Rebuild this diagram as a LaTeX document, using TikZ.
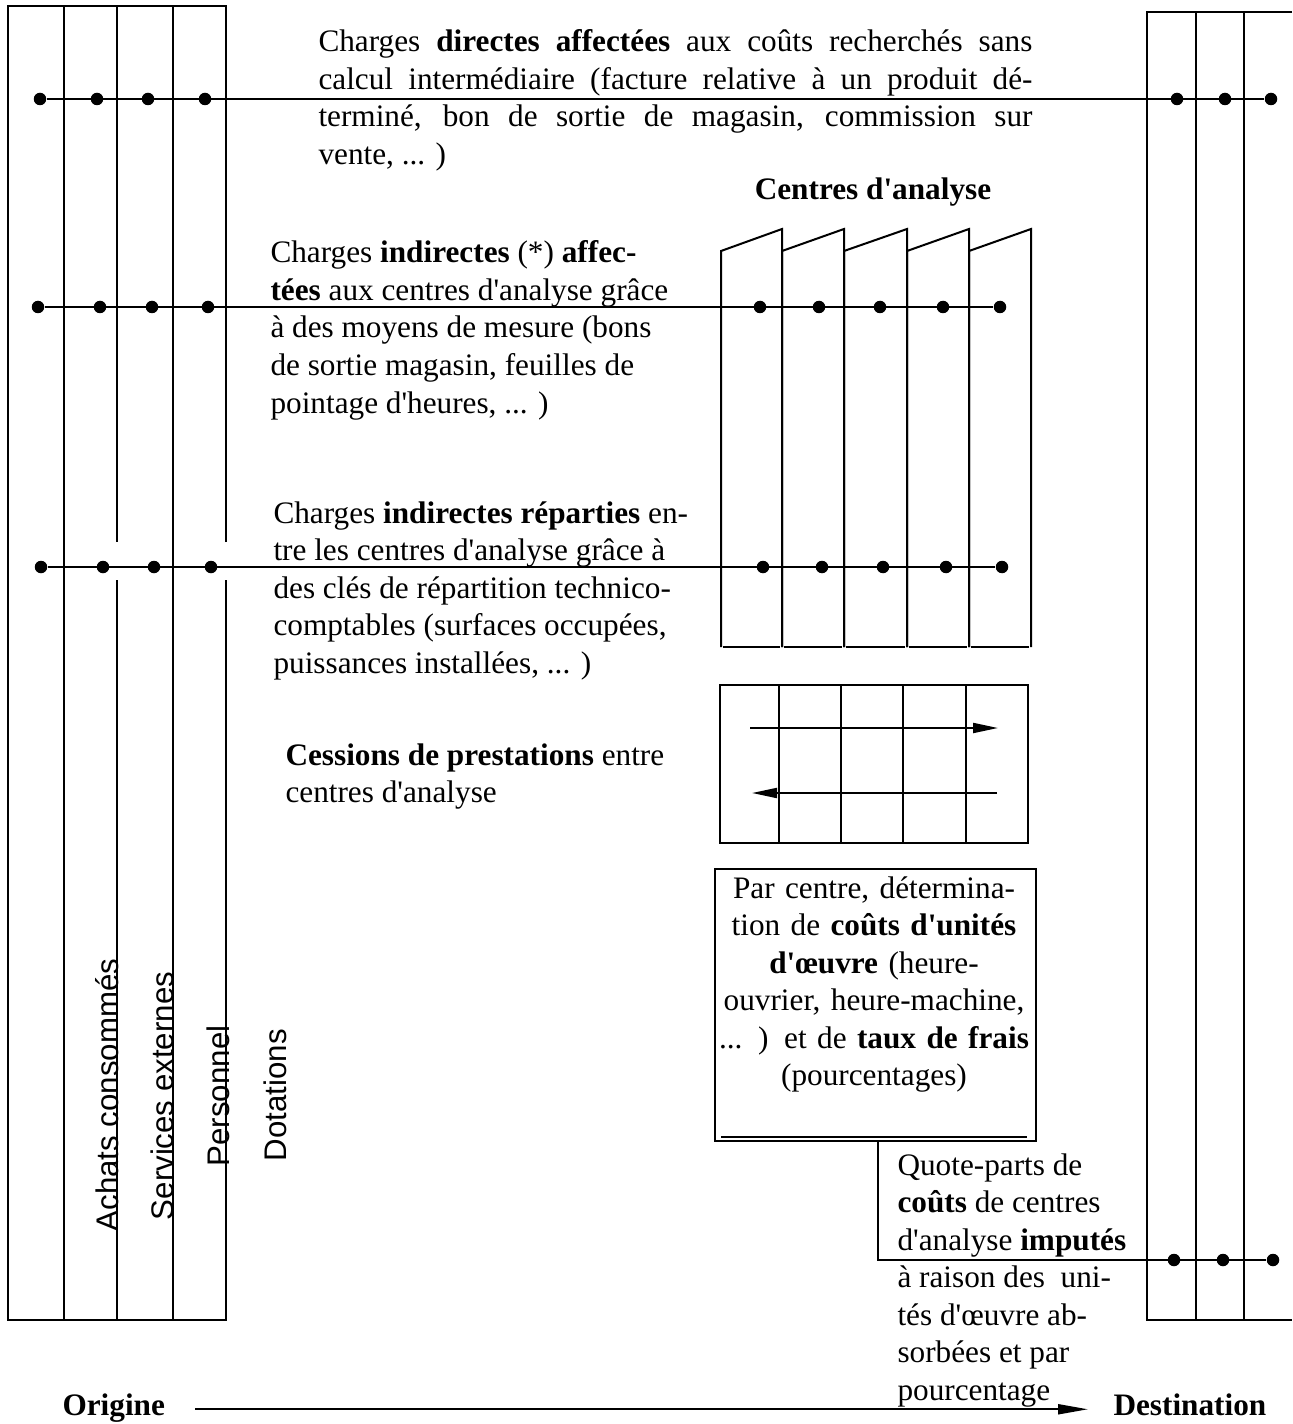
\documentclass[tikz,border=0pt]{standalone}
\usepackage{fontspec}
\setmainfont{Liberation Serif}[Ligatures=TeXOff]
\newfontfamily\colfont{Liberation Sans}
\usetikzlibrary{arrows.meta}
\tikzset{dot/.style={circle,fill,inner sep=0pt,minimum size=5pt},
    rule/.style={line width=0.8pt},
    txt/.style={inner sep=0pt,font=\fontsize{12.5}{15}\selectfont},
    para/.style={txt,align=justify,text width=285.6pt,
      execute at begin node={\tolerance=10000 \hyphenpenalty=10000 }},
    rag/.style={txt,align=justify,text width=#1},
    col/.style={inner sep=0pt,rotate=90,font=\colfont\fontsize{12.5}{15}\selectfont},
    flow/.style={rule,-{Triangle[length=10pt,width=4pt]}},
    x=0.4pt,y=-0.4pt}

\begin{document}
\begin{tikzpicture}
\useasboundingbox (0,0) rectangle (1292,1424);
% colonnes d'origine
\draw[rule] (226,542) -- (226,6) -- (8,6) -- (8,1320) -- (226,1320) -- (226,580);
\draw[rule] (64,6) -- (64,1320);
\draw[rule] (117,6) -- (117,542) (117,580) -- (117,1320);
\draw[rule] (173,6) -- (173,1320);
\node[col] (achats) at (107,1095) {Achats consommés};
\node[col] (services) at (162,1096) {Services externes};
\node[col] (personnel) at (218,1096) {Personnel};
\node[col] (dotations) at (275,1095) {Dotations};
% colonnes de destination
\draw[rule] (1292,12) -- (1147,12) -- (1147,1320) -- (1292,1320);
\draw[rule] (1196,12) -- (1196,1320);
\draw[rule] (1244,12) -- (1244,1320);
% centres d'analyse
\foreach \a/\b in {721/782,782/844,844/907,907/969,969/1031}{
  \draw[rule] (\a,647) -- (\a,251) -- (\b,229) -- (\b,647);
  \draw[rule] (\a+2,647) -- (\b-2,647);
}
\node[txt,font=\fontsize{12.5}{15}\selectfont\bfseries,anchor=base] (centres) at (873,200) {Centres d'analyse};
% cessions
\draw[rule] (720,685) rectangle (1028,843);
\foreach \x in {779,841,903,966}
  \draw[rule] (\x,685) -- (\x,843);
\coordinate (g1) at (750,728);
\coordinate (g2) at (998,728);
\coordinate (g3) at (997,793);
\coordinate (g4) at (752,793);
\draw[flow] (g1) -- (g2);
\draw[flow] (g3) -- (g4);
% couts d'unites d'oeuvre
\node[draw,rule,inner sep=0pt,minimum width=128.4pt,minimum height=108.8pt,anchor=north west] (cbox) at (714,868) {};
\draw[rule] ([xshift=2.8pt,yshift=2pt]cbox.south west) -- ([xshift=-4pt,yshift=2pt]cbox.south east);
\node[txt,align=center,text width=128pt,anchor=base] (ctext) at (874,898)
  {Par centre, détermina-\\tion de \textbf{coûts d'unités}\\\textbf{d'œuvre} (heure-\\ouvrier, heure-machine,\\... ) et de \textbf{taux de frais}\\(pourcentages)};
% lignes de charges
\foreach \x [count=\i] in {40,97,148,205,1177,1225,1271}
  \node[dot] (t\i) at (\x,99) {};
\draw[rule] (t1) -- (t7);
\foreach \x [count=\i] in {38,100,152,208,760,819,880,943,1000}
  \node[dot] (m\i) at (\x,307) {};
\draw[rule] (m1) -- (m9);
\foreach \x [count=\i] in {41,103,154,211,763,822,883,946,1002}
  \node[dot] (r\i) at (\x,567) {};
\draw[rule] (r1) -- (r9);
\foreach \x [count=\i] in {1174,1223,1273}
  \node[dot] (q\i) at (\x,1260) {};
\coordinate (qc) at (878,1260);
\draw[rule] (cbox.south -| qc) -- (qc) -- (q3);
% textes
\node[para,anchor=base west] (directes) at (318,52)
  {Charges \textbf{directes affectées} aux coûts recherchés sans\linebreak calcul intermédiaire (facture relative à un produit dé-\linebreak terminé, bon de sortie de magasin, commission sur\linebreak vente, ... )};
\node[rag=170pt,anchor=base west] (affectees) at (270,263)
  {Charges \textbf{indirectes} (*) \textbf{affec-}\newline \textbf{tées} aux centres d'analyse grâce\newline à des moyens de mesure (bons\newline de sortie magasin, feuilles de\newline pointage d'heures, ... )};
\node[rag=180pt,anchor=base west] (reparties) at (273,523)
  {Charges \textbf{indirectes réparties} en-\newline tre les centres d'analyse grâce à\newline des clés de répartition technico-\newline comptables (surfaces occupées,\newline puissances installées, ... )};
\node[rag=170pt,anchor=base west] (cessions) at (285,765)
  {\textbf{Cessions de prestations} entre\newline centres d'analyse};
\node[rag=100pt,anchor=base west] (quote) at (897,1175)
  {Quote-parts de\newline \textbf{coûts} de centres\newline d'analyse \textbf{imputés}\newline à raison des~ uni-\newline tés d'œuvre ab-\newline sorbées et par\newline pourcentage};
% origine -> destination
\node[txt,font=\fontsize{12.5}{15}\selectfont\bfseries,anchor=base west] (orig) at (62,1415) {Origine};
\node[txt,font=\fontsize{12.5}{15}\selectfont\bfseries,anchor=base west] (dest) at (1113,1415) {Destination};
\draw[rule,-{Triangle[length=12pt,width=4pt]}] ([xshift=12pt]orig.mid east) -- ([xshift=-10pt]orig.mid east -| dest.west);
\end{tikzpicture}
\end{document}
